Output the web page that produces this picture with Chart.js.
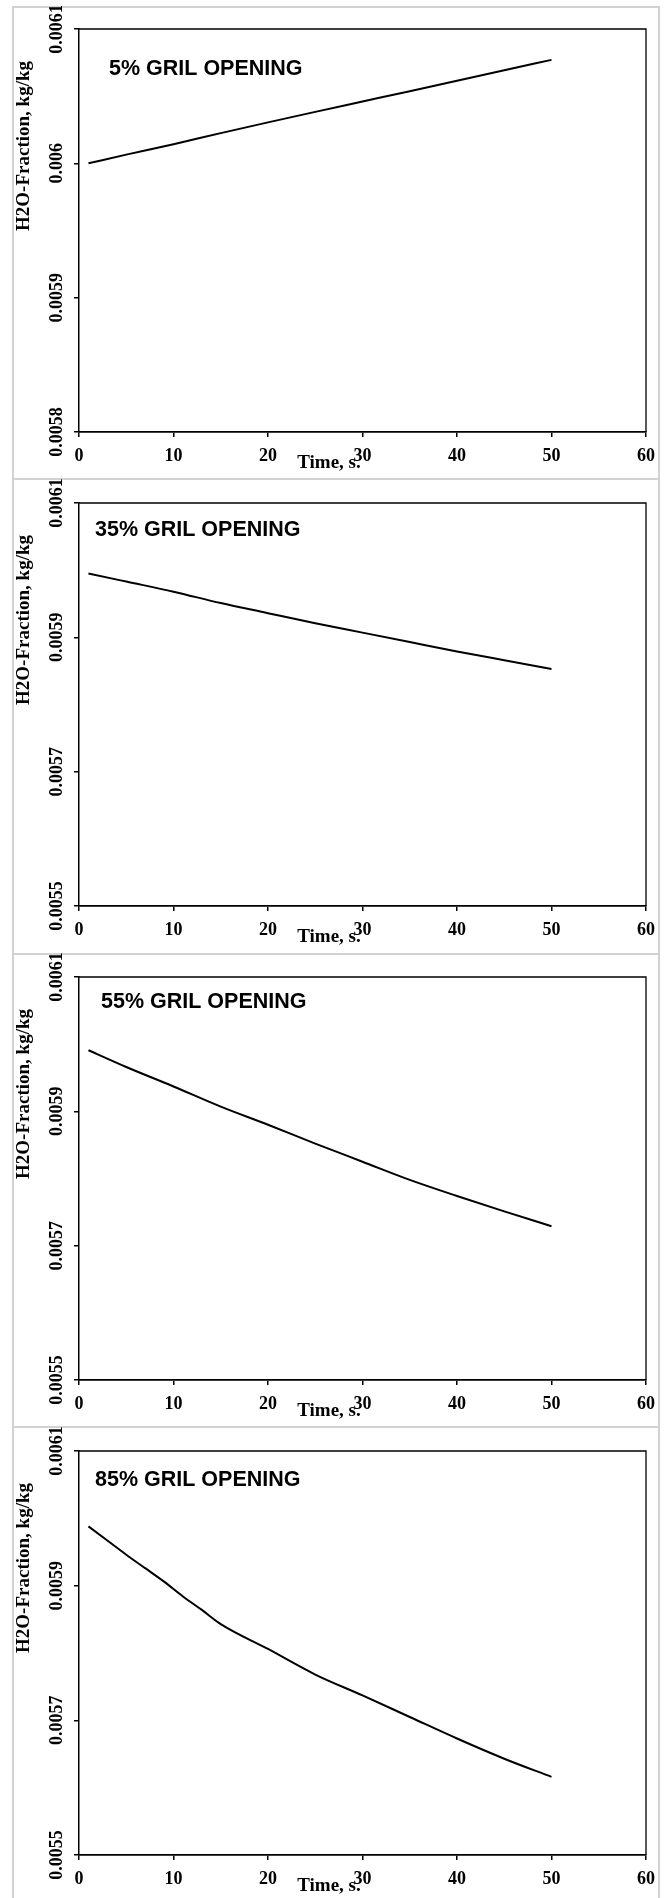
<!DOCTYPE html>
<html>
<head>
<meta charset="utf-8">
<title>H2O fraction vs time</title>
<script src="https://cdn.jsdelivr.net/npm/chart.js@4.4.1/dist/chart.umd.min.js"></script>
<style>
  html, body { margin: 0; padding: 0; background: #fff; }
  #page { position: relative; width: 670px; height: 1898px; overflow: hidden; background: #fff; }
  .cell { position: absolute; left: 12px; width: 648px; box-sizing: border-box; border: 2px solid #d2d2d2; }
  canvas { position: absolute; left: 0; }
</style>
</head>
<body>
<div id="page"></div>
<script>
// Time samples, s
const timeCoarse = [1, 5, 10, 15, 20, 25, 30, 35, 40, 45, 50];
const timeFine = [1, 3, 5, 7, 9, 11, 13, 15, 20, 25, 30, 35, 40, 45, 50];

// H2O mass fraction, kg/kg, for each grille opening
const h2o5 = [0.006000, 0.0060065, 0.0060142, 0.0060225, 0.0060305, 0.0060383, 0.006046, 0.0060537, 0.0060615, 0.0060693, 0.006077];
const h2o35 = [0.005995, 0.005983, 0.005968, 0.005951, 0.005936, 0.005921, 0.005907, 0.005893, 0.005879, 0.005866, 0.005853];
const h2o55 = [0.005991, 0.005966, 0.005937, 0.005907, 0.005880, 0.005852, 0.005825, 0.005798, 0.005774, 0.005751, 0.005729];
const h2o85 = [0.005988, 0.005967, 0.005946, 0.005926, 0.005906, 0.005884, 0.005864, 0.005843, 0.005806, 0.005768, 0.005737, 0.005705, 0.005673, 0.005643, 0.005616];

// Axis ticks and their labels
const xTicks = [0, 10, 20, 30, 40, 50, 60];
const yTicksNarrow = [0.0058, 0.0059, 0.006, 0.0061];
const yLabelsNarrow = ['0.0058', '0.0059', '0.006', '0.0061'];
const yTicksWide = [0.0055, 0.0057, 0.0059, 0.0061];
const yLabelsWide = ['0.0055', '0.0057', '0.0059', '0.0061'];

const captions = ['5% GRIL OPENING', '35% GRIL OPENING', '55% GRIL OPENING', '85% GRIL OPENING'];
const xTitle = 'Time, s.';
const yTitle = 'H2O-Fraction, kg/kg';

const panels = [
  { caption: captions[0], t: timeCoarse, v: h2o5,  ticks: yTicksNarrow, labels: yLabelsNarrow },
  { caption: captions[1], t: timeCoarse, v: h2o35, ticks: yTicksWide,   labels: yLabelsWide },
  { caption: captions[2], t: timeCoarse, v: h2o55, ticks: yTicksWide,   labels: yLabelsWide },
  { caption: captions[3], t: timeFine,   v: h2o85, ticks: yTicksWide,   labels: yLabelsWide }
];

// Page geometry of each panel
const frames = [
  { top: 6,    height: 472, padTop: 23, axisH: 46, capX: 109, capBase: 46 },
  { top: 478,  height: 475, padTop: 25, axisH: 47, capX: 95,  capBase: 33 },
  { top: 953,  height: 473, padTop: 24, axisH: 46, capX: 101, capBase: 31 },
  { top: 1426, height: 472, padTop: 25, axisH: 43, capX: 95,  capBase: 35 }
];
const axisW = 79;

const serif = '"Liberation Serif", "Times New Roman", serif';
const tickFont = { family: serif, size: 18, weight: 'bold' };

// Frame top/right edges, caption and axis titles
const decor = {
  id: 'decor',
  afterDraw(chart, args, opts) {
    const { ctx, chartArea: a } = chart;
    ctx.save();
    ctx.strokeStyle = '#000';
    ctx.lineWidth = 1.3;
    ctx.beginPath();
    ctx.moveTo(a.left, a.top);
    ctx.lineTo(a.right, a.top);
    ctx.lineTo(a.right, a.bottom);
    ctx.stroke();

    ctx.fillStyle = '#000';
    ctx.font = 'bold 21.5px "Liberation Sans", Arial, sans-serif';
    ctx.textAlign = 'left';
    ctx.textBaseline = 'alphabetic';
    ctx.fillText(opts.caption, opts.capX, a.top + opts.capBase);

    ctx.font = 'bold 19px ' + serif;
    ctx.textAlign = 'center';
    ctx.fillText(xTitle, a.left + 250, a.bottom + 36);

    ctx.translate(24, a.top + 117);
    ctx.rotate(-Math.PI / 2);
    ctx.textBaseline = 'middle';
    ctx.fillText(yTitle, 0, 0);
    ctx.restore();
  }
};

const page = document.getElementById('page');

frames.forEach((f, i) => {
  const cell = document.createElement('div');
  cell.className = 'cell';
  cell.style.top = f.top + 'px';
  cell.style.height = (i < frames.length - 1 ? f.height + 2 : f.height + 20) + 'px';
  page.appendChild(cell);
});

panels.forEach((p, i) => {
  const f = frames[i];
  const canvas = document.createElement('canvas');
  canvas.width = 670;
  canvas.height = f.height;
  canvas.style.top = f.top + 'px';
  canvas.style.width = '670px';
  canvas.style.height = f.height + 'px';
  page.appendChild(canvas);

  new Chart(canvas, {
    type: 'line',
    data: {
      datasets: [{
        data: p.t.map((t, k) => ({ x: t, y: p.v[k] })),
        borderColor: '#000',
        borderWidth: 2,
        pointRadius: 0,
        cubicInterpolationMode: 'monotone',
        fill: false
      }]
    },
    options: {
      responsive: false,
      animation: false,
      events: [],
      layout: { padding: { left: 0, right: 24, top: f.padTop, bottom: 0 } },
      plugins: {
        legend: { display: false },
        tooltip: { enabled: false },
        decor: { caption: p.caption, capX: f.capX, capBase: f.capBase }
      },
      scales: {
        x: {
          type: 'linear',
          min: xTicks[0],
          max: xTicks[xTicks.length - 1],
          afterBuildTicks: s => { s.ticks = xTicks.map(v => ({ value: v })); },
          afterFit: s => { s.height = f.axisH; },
          ticks: { autoSkip: false, maxRotation: 0, padding: 9, color: '#000', font: tickFont, callback: v => String(v) },
          grid: { drawOnChartArea: false, drawTicks: true, tickLength: 5, color: '#000', lineWidth: 1.5 },
          border: { display: true, color: '#000', width: 1.8 }
        },
        y: {
          type: 'linear',
          min: p.ticks[0],
          max: p.ticks[p.ticks.length - 1],
          afterBuildTicks: s => { s.ticks = p.ticks.map(v => ({ value: v })); },
          afterFit: s => { s.width = axisW; },
          ticks: { minRotation: 90, maxRotation: 90, crossAlign: 'center', padding: -8, color: '#000', font: tickFont,
                   callback: (v, k) => p.labels[k] },
          grid: { drawOnChartArea: false, drawTicks: true, tickLength: 5, color: '#000', lineWidth: 1.5 },
          border: { display: true, color: '#000', width: 1.5 }
        }
      }
    },
    plugins: [decor]
  });
});
</script>
</body>
</html>
